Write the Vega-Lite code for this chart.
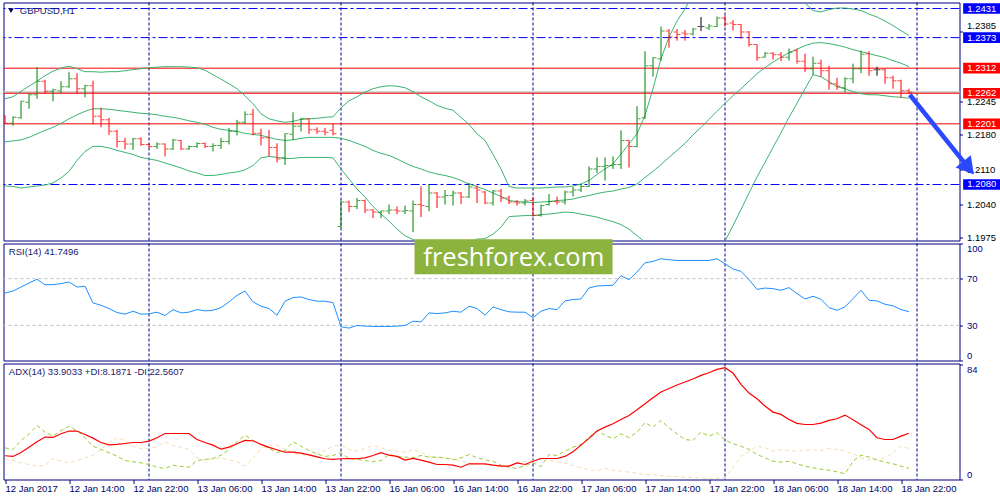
{
"$schema":"https://vega.github.io/schema/vega-lite/v6.json",
"background":"white",
"padding":{"left":1.5,"top":1.5,"right":0,"bottom":0},
"spacing":3,
"bounds":"flush",
"config":{"view":{"stroke":"#000080","strokeWidth":1},"axis":{"labelFont":"Liberation Sans","labelFontSize":9.5,"labelColor":"#000000","tickColor":"#000080","domain":false,"grid":false,"labelOverlap":false}},
"datasets":{
"seps":[{"i":18},{"i":42},{"i":66},{"i":90},{"i":114}],
"levels":[{"v":1.2431,"k":"blue"},{"v":1.2373,"k":"blue"},{"v":1.208,"k":"blue"},{"v":1.2312,"k":"red"},{"v":1.2262,"k":"red"},{"v":1.2201,"k":"red"}],
"bars":[
{"i":0,"o":1.2218,"h":1.2218,"l":1.2201,"c":1.2202,"u":1.2251,"m":1.2165,"lb":1.2077,"rsi":57.7,"adx":17.4,"pdi":23.2,"mdi":15.4},
{"i":1,"o":1.2202,"h":1.2216,"l":1.2197,"c":1.2214,"u":1.2255,"m":1.2167,"lb":1.2076,"rsi":59.4,"adx":16.9,"pdi":22.0,"mdi":13.9},
{"i":2,"o":1.2213,"h":1.2247,"l":1.2211,"c":1.2246,"u":1.2266,"m":1.2169,"lb":1.2073,"rsi":62.8,"adx":19.8,"pdi":28.6,"mdi":12.2},
{"i":3,"o":1.2244,"h":1.2262,"l":1.2231,"c":1.2259,"u":1.2276,"m":1.2174,"lb":1.2075,"rsi":66.2,"adx":23.7,"pdi":33.5,"mdi":11.0},
{"i":4,"o":1.2259,"h":1.2314,"l":1.2251,"c":1.2286,"u":1.2286,"m":1.2181,"lb":1.2077,"rsi":69.4,"adx":27.6,"pdi":39.6,"mdi":9.8},
{"i":5,"o":1.2286,"h":1.2289,"l":1.2262,"c":1.2266,"u":1.2297,"m":1.2188,"lb":1.2079,"rsi":64.8,"adx":31.1,"pdi":34.7,"mdi":10.5},
{"i":6,"o":1.2266,"h":1.2271,"l":1.2246,"c":1.2269,"u":1.2306,"m":1.2194,"lb":1.2083,"rsi":64.8,"adx":30.8,"pdi":31.8,"mdi":15.4},
{"i":7,"o":1.2267,"h":1.2286,"l":1.2262,"c":1.2275,"u":1.2312,"m":1.2202,"lb":1.2093,"rsi":65.7,"adx":33.5,"pdi":35.9,"mdi":13.4},
{"i":8,"o":1.2275,"h":1.2304,"l":1.2273,"c":1.2291,"u":1.2316,"m":1.2211,"lb":1.2106,"rsi":67.1,"adx":35.5,"pdi":38.9,"mdi":12.2},
{"i":9,"o":1.2291,"h":1.2302,"l":1.2261,"c":1.2271,"u":1.2311,"m":1.2219,"lb":1.2128,"rsi":62.8,"adx":35.5,"pdi":35.9,"mdi":13.9},
{"i":10,"o":1.2271,"h":1.2279,"l":1.2254,"c":1.2277,"u":1.2305,"m":1.2226,"lb":1.2146,"rsi":63.4,"adx":33.0,"pdi":30.6,"mdi":15.9},
{"i":11,"o":1.2277,"h":1.2287,"l":1.22,"c":1.2216,"u":1.2305,"m":1.2231,"lb":1.2156,"rsi":49.2,"adx":30.3,"pdi":24.4,"mdi":17.8},
{"i":12,"o":1.2216,"h":1.2233,"l":1.2194,"c":1.2209,"u":1.2304,"m":1.2231,"lb":1.2156,"rsi":47.2,"adx":27.1,"pdi":22.0,"mdi":22.2},
{"i":13,"o":1.2209,"h":1.2213,"l":1.2179,"c":1.2186,"u":1.2305,"m":1.223,"lb":1.2153,"rsi":44.4,"adx":25.4,"pdi":19.6,"mdi":26.9},
{"i":14,"o":1.2186,"h":1.2189,"l":1.2154,"c":1.2166,"u":1.2305,"m":1.2228,"lb":1.2148,"rsi":41.0,"adx":25.7,"pdi":17.1,"mdi":30.6},
{"i":15,"o":1.2166,"h":1.2173,"l":1.215,"c":1.2161,"u":1.2307,"m":1.2226,"lb":1.2144,"rsi":39.6,"adx":26.4,"pdi":13.9,"mdi":28.6},
{"i":16,"o":1.2161,"h":1.2173,"l":1.2149,"c":1.2171,"u":1.2309,"m":1.2224,"lb":1.214,"rsi":42.1,"adx":27.1,"pdi":13.0,"mdi":24.4},
{"i":17,"o":1.2171,"h":1.2174,"l":1.2157,"c":1.216,"u":1.2311,"m":1.2222,"lb":1.2134,"rsi":39.6,"adx":27.1,"pdi":12.2,"mdi":22.7},
{"i":18,"o":1.216,"h":1.2162,"l":1.2153,"c":1.2156,"u":1.2313,"m":1.2221,"lb":1.2131,"rsi":39.9,"adx":28.1,"pdi":11.0,"mdi":22.7},
{"i":19,"o":1.2156,"h":1.2164,"l":1.2151,"c":1.2161,"u":1.2314,"m":1.2219,"lb":1.2128,"rsi":41.3,"adx":30.6,"pdi":9.0,"mdi":24.2},
{"i":20,"o":1.2161,"h":1.2162,"l":1.2136,"c":1.2151,"u":1.2315,"m":1.2216,"lb":1.2123,"rsi":38.4,"adx":33.7,"pdi":8.1,"mdi":27.4},
{"i":21,"o":1.2151,"h":1.2171,"l":1.2149,"c":1.2169,"u":1.2315,"m":1.2214,"lb":1.2118,"rsi":43.5,"adx":33.7,"pdi":10.5,"mdi":24.9},
{"i":22,"o":1.2168,"h":1.2169,"l":1.2149,"c":1.2151,"u":1.2315,"m":1.2211,"lb":1.2113,"rsi":40.7,"adx":33.7,"pdi":9.5,"mdi":23.7},
{"i":23,"o":1.2151,"h":1.2158,"l":1.2149,"c":1.2156,"u":1.2314,"m":1.2207,"lb":1.2107,"rsi":41.3,"adx":33.7,"pdi":9.0,"mdi":22.0},
{"i":24,"o":1.2156,"h":1.2164,"l":1.2153,"c":1.2162,"u":1.2313,"m":1.2204,"lb":1.2103,"rsi":43.5,"adx":29.3,"pdi":13.9,"mdi":15.9},
{"i":25,"o":1.2162,"h":1.2164,"l":1.2153,"c":1.2156,"u":1.2308,"m":1.22,"lb":1.2098,"rsi":42.4,"adx":27.1,"pdi":14.7,"mdi":14.2},
{"i":26,"o":1.2156,"h":1.2162,"l":1.2146,"c":1.2158,"u":1.2299,"m":1.2194,"lb":1.2098,"rsi":43.0,"adx":25.2,"pdi":15.4,"mdi":15.2},
{"i":27,"o":1.2158,"h":1.2173,"l":1.2151,"c":1.2166,"u":1.229,"m":1.219,"lb":1.21,"rsi":45.2,"adx":22.2,"pdi":17.8,"mdi":15.9},
{"i":28,"o":1.2166,"h":1.2193,"l":1.216,"c":1.2186,"u":1.2281,"m":1.2188,"lb":1.2103,"rsi":50.1,"adx":23.7,"pdi":22.0,"mdi":14.4},
{"i":29,"o":1.2186,"h":1.2209,"l":1.2178,"c":1.2204,"u":1.2271,"m":1.2186,"lb":1.2105,"rsi":55.7,"adx":26.2,"pdi":27.6,"mdi":13.0},
{"i":30,"o":1.2204,"h":1.2226,"l":1.2201,"c":1.222,"u":1.2257,"m":1.2182,"lb":1.2109,"rsi":59.4,"adx":28.6,"pdi":32.5,"mdi":9.8},
{"i":31,"o":1.222,"h":1.2231,"l":1.2178,"c":1.2182,"u":1.2241,"m":1.218,"lb":1.2118,"rsi":50.1,"adx":28.4,"pdi":28.6,"mdi":15.4},
{"i":32,"o":1.2182,"h":1.2191,"l":1.2158,"c":1.2173,"u":1.2221,"m":1.2178,"lb":1.2133,"rsi":46.4,"adx":25.7,"pdi":25.7,"mdi":22.7},
{"i":33,"o":1.2173,"h":1.2189,"l":1.2136,"c":1.2154,"u":1.2211,"m":1.2174,"lb":1.2136,"rsi":44.4,"adx":23.5,"pdi":22.7,"mdi":25.2},
{"i":34,"o":1.2154,"h":1.2162,"l":1.2124,"c":1.2131,"u":1.2207,"m":1.217,"lb":1.2134,"rsi":38.7,"adx":21.8,"pdi":19.8,"mdi":25.2},
{"i":35,"o":1.2133,"h":1.2182,"l":1.2119,"c":1.2181,"u":1.2204,"m":1.2168,"lb":1.2132,"rsi":50.7,"adx":20.0,"pdi":21.3,"mdi":22.0},
{"i":36,"o":1.218,"h":1.2224,"l":1.2169,"c":1.2196,"u":1.2206,"m":1.2169,"lb":1.2132,"rsi":53.8,"adx":20.0,"pdi":27.6,"mdi":19.3},
{"i":37,"o":1.2196,"h":1.2213,"l":1.2186,"c":1.2211,"u":1.221,"m":1.2172,"lb":1.2134,"rsi":54.3,"adx":19.3,"pdi":24.4,"mdi":18.3},
{"i":38,"o":1.2211,"h":1.2212,"l":1.2181,"c":1.2189,"u":1.2211,"m":1.2174,"lb":1.2134,"rsi":52.1,"adx":18.1,"pdi":21.3,"mdi":17.6},
{"i":39,"o":1.2189,"h":1.2194,"l":1.2181,"c":1.2186,"u":1.2212,"m":1.2174,"lb":1.2134,"rsi":50.7,"adx":16.6,"pdi":18.8,"mdi":18.8},
{"i":40,"o":1.2186,"h":1.2193,"l":1.2178,"c":1.2184,"u":1.2214,"m":1.2174,"lb":1.2134,"rsi":50.7,"adx":15.2,"pdi":16.9,"mdi":21.3},
{"i":41,"o":1.2188,"h":1.2201,"l":1.2178,"c":1.2181,"u":1.2215,"m":1.2174,"lb":1.2133,"rsi":49.5,"adx":14.7,"pdi":17.6,"mdi":24.4},
{"i":42,"o":1.1996,"h":1.2048,"l":1.1993,"c":1.2045,"u":1.2233,"m":1.2172,"lb":1.2111,"rsi":28.8,"adx":15.2,"pdi":19.6,"mdi":25.2},
{"i":43,"o":1.2045,"h":1.2048,"l":1.2025,"c":1.2036,"u":1.2247,"m":1.2168,"lb":1.2091,"rsi":27.7,"adx":15.4,"pdi":15.4,"mdi":22.0},
{"i":44,"o":1.2036,"h":1.2053,"l":1.2031,"c":1.2048,"u":1.2255,"m":1.2162,"lb":1.2071,"rsi":29.9,"adx":15.2,"pdi":14.7,"mdi":20.8},
{"i":45,"o":1.2048,"h":1.205,"l":1.2023,"c":1.2029,"u":1.2264,"m":1.2156,"lb":1.2055,"rsi":29.4,"adx":15.9,"pdi":13.9,"mdi":22.7},
{"i":46,"o":1.2029,"h":1.2031,"l":1.2013,"c":1.2025,"u":1.2271,"m":1.2148,"lb":1.2036,"rsi":29.1,"adx":17.6,"pdi":13.0,"mdi":24.9},
{"i":47,"o":1.2024,"h":1.2028,"l":1.2013,"c":1.2027,"u":1.2275,"m":1.2142,"lb":1.2021,"rsi":29.1,"adx":19.6,"pdi":13.9,"mdi":23.2},
{"i":48,"o":1.2027,"h":1.204,"l":1.2021,"c":1.2029,"u":1.2277,"m":1.2138,"lb":1.2007,"rsi":29.1,"adx":17.8,"pdi":18.3,"mdi":21.5},
{"i":49,"o":1.2029,"h":1.2036,"l":1.2021,"c":1.2027,"u":1.2276,"m":1.2131,"lb":1.1991,"rsi":29.4,"adx":16.9,"pdi":17.1,"mdi":20.8},
{"i":50,"o":1.2027,"h":1.2038,"l":1.2021,"c":1.2028,"u":1.2273,"m":1.2123,"lb":1.1978,"rsi":29.9,"adx":14.2,"pdi":16.4,"mdi":19.8},
{"i":51,"o":1.2027,"h":1.2048,"l":1.1985,"c":1.204,"u":1.2265,"m":1.2116,"lb":1.197,"rsi":33.6,"adx":15.4,"pdi":15.9,"mdi":22.0},
{"i":52,"o":1.204,"h":1.2076,"l":1.2015,"c":1.2038,"u":1.2255,"m":1.2111,"lb":1.1966,"rsi":33.0,"adx":14.2,"pdi":17.6,"mdi":19.6},
{"i":53,"o":1.2036,"h":1.2081,"l":1.2027,"c":1.2063,"u":1.2247,"m":1.2105,"lb":1.1962,"rsi":40.7,"adx":12.7,"pdi":16.4,"mdi":17.1},
{"i":54,"o":1.2063,"h":1.2065,"l":1.2033,"c":1.2055,"u":1.2238,"m":1.2101,"lb":1.1964,"rsi":40.1,"adx":11.0,"pdi":16.4,"mdi":15.9},
{"i":55,"o":1.2055,"h":1.2069,"l":1.204,"c":1.2058,"u":1.2232,"m":1.2098,"lb":1.1964,"rsi":40.7,"adx":11.0,"pdi":15.9,"mdi":15.6},
{"i":56,"o":1.2058,"h":1.2068,"l":1.2038,"c":1.2063,"u":1.2228,"m":1.2094,"lb":1.196,"rsi":42.1,"adx":10.5,"pdi":14.4,"mdi":15.2},
{"i":57,"o":1.2063,"h":1.2065,"l":1.2041,"c":1.2055,"u":1.2214,"m":1.2088,"lb":1.1962,"rsi":41.3,"adx":9.0,"pdi":15.9,"mdi":13.4},
{"i":58,"o":1.2055,"h":1.2083,"l":1.2053,"c":1.2075,"u":1.22,"m":1.2081,"lb":1.1963,"rsi":46.4,"adx":11.5,"pdi":18.3,"mdi":12.2},
{"i":59,"o":1.2073,"h":1.2078,"l":1.2043,"c":1.2069,"u":1.2181,"m":1.2076,"lb":1.1971,"rsi":44.4,"adx":11.5,"pdi":15.9,"mdi":11.5},
{"i":60,"o":1.2065,"h":1.2067,"l":1.2041,"c":1.2043,"u":1.2168,"m":1.207,"lb":1.1972,"rsi":38.7,"adx":11.5,"pdi":14.4,"mdi":11.0},
{"i":61,"o":1.2043,"h":1.2069,"l":1.2038,"c":1.2067,"u":1.214,"m":1.2063,"lb":1.1981,"rsi":45.8,"adx":10.5,"pdi":13.4,"mdi":10.0},
{"i":62,"o":1.2067,"h":1.2071,"l":1.2045,"c":1.2053,"u":1.2111,"m":1.2056,"lb":1.1995,"rsi":43.5,"adx":9.8,"pdi":10.5,"mdi":10.0},
{"i":63,"o":1.2053,"h":1.2058,"l":1.2041,"c":1.2045,"u":1.2076,"m":1.2048,"lb":1.2016,"rsi":41.6,"adx":9.8,"pdi":9.0,"mdi":9.0},
{"i":64,"o":1.2045,"h":1.2049,"l":1.2038,"c":1.2043,"u":1.2073,"m":1.2046,"lb":1.2017,"rsi":41.3,"adx":12.2,"pdi":8.1,"mdi":12.7},
{"i":65,"o":1.2043,"h":1.2051,"l":1.2038,"c":1.2047,"u":1.2073,"m":1.2045,"lb":1.2018,"rsi":41.3,"adx":11.0,"pdi":10.3,"mdi":13.4},
{"i":66,"o":1.2048,"h":1.2055,"l":1.2016,"c":1.2018,"u":1.2073,"m":1.2044,"lb":1.2018,"rsi":36.7,"adx":13.4,"pdi":12.2,"mdi":13.9},
{"i":67,"o":1.2018,"h":1.204,"l":1.2016,"c":1.2038,"u":1.2073,"m":1.2045,"lb":1.202,"rsi":42.1,"adx":15.4,"pdi":9.5,"mdi":16.1},
{"i":68,"o":1.204,"h":1.2061,"l":1.2038,"c":1.2046,"u":1.2074,"m":1.2046,"lb":1.2021,"rsi":44.4,"adx":15.4,"pdi":18.3,"mdi":14.2},
{"i":69,"o":1.2046,"h":1.2056,"l":1.204,"c":1.2045,"u":1.2075,"m":1.2048,"lb":1.2023,"rsi":43.5,"adx":15.4,"pdi":17.6,"mdi":13.0},
{"i":70,"o":1.2045,"h":1.2068,"l":1.204,"c":1.2065,"u":1.2075,"m":1.2049,"lb":1.2025,"rsi":50.9,"adx":16.9,"pdi":20.8,"mdi":12.0},
{"i":71,"o":1.2065,"h":1.2075,"l":1.2056,"c":1.2069,"u":1.2077,"m":1.2051,"lb":1.2024,"rsi":52.1,"adx":20.3,"pdi":23.7,"mdi":10.3},
{"i":72,"o":1.2069,"h":1.2081,"l":1.2065,"c":1.2076,"u":1.2081,"m":1.2055,"lb":1.2021,"rsi":52.6,"adx":25.2,"pdi":25.7,"mdi":8.6},
{"i":73,"o":1.2076,"h":1.2116,"l":1.2075,"c":1.2111,"u":1.2088,"m":1.2058,"lb":1.2018,"rsi":62.0,"adx":30.1,"pdi":31.1,"mdi":7.1},
{"i":74,"o":1.2111,"h":1.2134,"l":1.2103,"c":1.2116,"u":1.21,"m":1.2062,"lb":1.2015,"rsi":63.7,"adx":35.5,"pdi":35.5,"mdi":6.4},
{"i":75,"o":1.2116,"h":1.2134,"l":1.2088,"c":1.2118,"u":1.2111,"m":1.2065,"lb":1.201,"rsi":64.0,"adx":38.4,"pdi":32.5,"mdi":8.1},
{"i":76,"o":1.2118,"h":1.2136,"l":1.2111,"c":1.212,"u":1.2121,"m":1.2067,"lb":1.2006,"rsi":64.3,"adx":40.8,"pdi":29.8,"mdi":6.8},
{"i":77,"o":1.212,"h":1.2188,"l":1.2111,"c":1.2168,"u":1.2141,"m":1.2071,"lb":1.2,"rsi":72.5,"adx":44.0,"pdi":33.5,"mdi":6.1},
{"i":78,"o":1.2168,"h":1.2169,"l":1.2114,"c":1.2156,"u":1.2161,"m":1.2074,"lb":1.1991,"rsi":69.1,"adx":46.9,"pdi":30.6,"mdi":5.4},
{"i":79,"o":1.2156,"h":1.2236,"l":1.2154,"c":1.2211,"u":1.2181,"m":1.2081,"lb":1.1978,"rsi":75.6,"adx":51.1,"pdi":34.7,"mdi":4.6},
{"i":80,"o":1.2213,"h":1.2346,"l":1.2211,"c":1.2317,"u":1.2218,"m":1.2094,"lb":1.1965,"rsi":83.5,"adx":55.5,"pdi":41.6,"mdi":3.7},
{"i":81,"o":1.2317,"h":1.2334,"l":1.2295,"c":1.2333,"u":1.2271,"m":1.2106,"lb":1.1942,"rsi":84.7,"adx":59.9,"pdi":38.4,"mdi":3.4},
{"i":82,"o":1.2331,"h":1.2395,"l":1.2327,"c":1.2386,"u":1.2331,"m":1.212,"lb":1.1909,"rsi":87.0,"adx":64.1,"pdi":43.3,"mdi":2.9},
{"i":83,"o":1.2386,"h":1.239,"l":1.2353,"c":1.2374,"u":1.2374,"m":1.2134,"lb":1.1895,"rsi":86.1,"adx":66.7,"pdi":37.9,"mdi":2.4},
{"i":84,"o":1.2384,"h":1.239,"l":1.2367,"c":1.2379,"u":1.2406,"m":1.2148,"lb":1.189,"rsi":85.5,"adx":69.2,"pdi":33.5,"mdi":2.2},
{"i":85,"o":1.2382,"h":1.2388,"l":1.2367,"c":1.238,"u":1.243,"m":1.2162,"lb":1.1894,"rsi":85.5,"adx":71.4,"pdi":29.3,"mdi":1.7},
{"i":86,"o":1.238,"h":1.2392,"l":1.2377,"c":1.239,"u":1.246,"m":1.2179,"lb":1.1898,"rsi":85.5,"adx":73.6,"pdi":28.6,"mdi":1.5},
{"i":87,"o":1.2395,"h":1.2414,"l":1.2386,"c":1.2395,"u":1.248,"m":1.2194,"lb":1.1908,"rsi":85.5,"adx":76.3,"pdi":34.7,"mdi":1.2},
{"i":88,"o":1.2392,"h":1.24,"l":1.2388,"c":1.2396,"u":1.2497,"m":1.221,"lb":1.1922,"rsi":85.5,"adx":78.2,"pdi":31.8,"mdi":0.7},
{"i":89,"o":1.2395,"h":1.2415,"l":1.2394,"c":1.2412,"u":1.251,"m":1.2226,"lb":1.1941,"rsi":87.0,"adx":80.7,"pdi":34.2,"mdi":1.0},
{"i":90,"o":1.2412,"h":1.2417,"l":1.2395,"c":1.24,"u":1.2516,"m":1.2242,"lb":1.1967,"rsi":82.7,"adx":81.9,"pdi":28.9,"mdi":1.2},
{"i":91,"o":1.2402,"h":1.2408,"l":1.2387,"c":1.2399,"u":1.2515,"m":1.2257,"lb":1.1998,"rsi":78.2,"adx":78.0,"pdi":26.2,"mdi":9.0},
{"i":92,"o":1.2399,"h":1.24,"l":1.2371,"c":1.2384,"u":1.2512,"m":1.2271,"lb":1.203,"rsi":76.2,"adx":69.7,"pdi":24.4,"mdi":17.1},
{"i":93,"o":1.2384,"h":1.2386,"l":1.2355,"c":1.2359,"u":1.251,"m":1.2286,"lb":1.2063,"rsi":69.1,"adx":63.3,"pdi":22.0,"mdi":20.3},
{"i":94,"o":1.2359,"h":1.236,"l":1.2327,"c":1.2333,"u":1.2507,"m":1.2301,"lb":1.2095,"rsi":60.8,"adx":59.2,"pdi":18.3,"mdi":24.4},
{"i":95,"o":1.2334,"h":1.2344,"l":1.2333,"c":1.2342,"u":1.2502,"m":1.2313,"lb":1.2124,"rsi":61.9,"adx":53.8,"pdi":15.9,"mdi":23.2},
{"i":96,"o":1.2342,"h":1.2344,"l":1.2329,"c":1.2339,"u":1.2494,"m":1.2324,"lb":1.2154,"rsi":61.4,"adx":49.4,"pdi":13.4,"mdi":20.8},
{"i":97,"o":1.2339,"h":1.2344,"l":1.2326,"c":1.2334,"u":1.2485,"m":1.2334,"lb":1.2183,"rsi":60.0,"adx":47.7,"pdi":12.7,"mdi":21.8},
{"i":98,"o":1.2334,"h":1.2351,"l":1.2327,"c":1.2344,"u":1.2471,"m":1.2343,"lb":1.2214,"rsi":62.3,"adx":44.0,"pdi":13.4,"mdi":21.3},
{"i":99,"o":1.2347,"h":1.2351,"l":1.2321,"c":1.2326,"u":1.2458,"m":1.235,"lb":1.2242,"rsi":57.2,"adx":41.1,"pdi":11.5,"mdi":20.8},
{"i":100,"o":1.2326,"h":1.2341,"l":1.2304,"c":1.2311,"u":1.2442,"m":1.2357,"lb":1.2271,"rsi":52.6,"adx":40.3,"pdi":9.8,"mdi":21.3},
{"i":101,"o":1.2311,"h":1.2335,"l":1.2299,"c":1.2322,"u":1.2427,"m":1.2362,"lb":1.2299,"rsi":54.9,"adx":40.3,"pdi":8.6,"mdi":21.8},
{"i":102,"o":1.2322,"h":1.2329,"l":1.2295,"c":1.2307,"u":1.2424,"m":1.2363,"lb":1.2295,"rsi":52.3,"adx":41.3,"pdi":7.6,"mdi":21.3},
{"i":103,"o":1.2307,"h":1.2317,"l":1.2269,"c":1.2281,"u":1.2429,"m":1.2361,"lb":1.2285,"rsi":45.2,"adx":43.3,"pdi":6.8,"mdi":22.7},
{"i":104,"o":1.2281,"h":1.2293,"l":1.2269,"c":1.2276,"u":1.2432,"m":1.2358,"lb":1.2275,"rsi":42.9,"adx":44.5,"pdi":5.6,"mdi":22.0},
{"i":105,"o":1.2273,"h":1.2294,"l":1.2264,"c":1.2291,"u":1.2432,"m":1.2354,"lb":1.2271,"rsi":45.8,"adx":47.2,"pdi":4.2,"mdi":20.8},
{"i":106,"o":1.2291,"h":1.2321,"l":1.2282,"c":1.2311,"u":1.243,"m":1.2349,"lb":1.2265,"rsi":52.9,"adx":43.8,"pdi":13.4,"mdi":18.8},
{"i":107,"o":1.2311,"h":1.2347,"l":1.2302,"c":1.234,"u":1.2427,"m":1.2345,"lb":1.2261,"rsi":60.0,"adx":40.1,"pdi":17.8,"mdi":15.9},
{"i":108,"o":1.2341,"h":1.2346,"l":1.2297,"c":1.2307,"u":1.242,"m":1.2341,"lb":1.2259,"rsi":51.5,"adx":36.7,"pdi":16.4,"mdi":14.4},
{"i":109,"o":1.2309,"h":1.2315,"l":1.2297,"c":1.2309,"u":1.2414,"m":1.2337,"lb":1.2259,"rsi":50.9,"adx":30.6,"pdi":14.4,"mdi":14.2},
{"i":110,"o":1.2309,"h":1.2311,"l":1.2281,"c":1.2293,"u":1.2406,"m":1.2333,"lb":1.2257,"rsi":48.1,"adx":29.3,"pdi":12.7,"mdi":15.9},
{"i":111,"o":1.2293,"h":1.2297,"l":1.2271,"c":1.2287,"u":1.2397,"m":1.2327,"lb":1.2255,"rsi":46.7,"adx":29.3,"pdi":11.5,"mdi":19.6},
{"i":112,"o":1.2287,"h":1.2289,"l":1.2253,"c":1.2267,"u":1.2387,"m":1.2322,"lb":1.2254,"rsi":43.5,"adx":31.8,"pdi":9.8,"mdi":24.4},
{"i":113,"o":1.2267,"h":1.2271,"l":1.2261,"c":1.2264,"u":1.2377,"m":1.2315,"lb":1.2252,"rsi":41.7,"adx":33.9,"pdi":8.2,"mdi":22.6}
]},
"vconcat":[
{"width":956,"height":238,"layer":[
{"data":{"name":"seps"},"mark":{"type":"rule","color":"#000080","strokeDash":[3,2]},"encoding":{"x":{"field":"i","type":"quantitative","scale":{"domain":[-0.1875,119.3125],"nice":false,"zero":false},"axis":null}}},
{"data":{"name":"levels"},"transform":[{"filter":"datum.k == 'blue'"}],"mark":{"type":"rule","color":"#0000ff","strokeDash":[9,3,3,3]},"encoding":{"y":{"field":"v","type":"quantitative","scale":{"domain":[1.19683,1.2443],"nice":false,"zero":false}}}},
{"data":{"values":[{"v":1.2264}]},"mark":{"type":"rule","color":"#c8c8c8","strokeWidth":2},"encoding":{"y":{"field":"v","type":"quantitative","scale":{"domain":[1.19683,1.2443],"nice":false,"zero":false}}}},
{"data":{"name":"levels"},"transform":[{"filter":"datum.k == 'red'"}],"mark":{"type":"rule","color":"#ff0000","strokeWidth":1},"encoding":{"y":{"field":"v","type":"quantitative","scale":{"domain":[1.19683,1.2443],"nice":false,"zero":false}}}},
{"data":{"name":"bars"},"mark":{"type":"line","color":"#3cb371","strokeWidth":1,"clip":true},"encoding":{"x":{"field":"i","type":"quantitative","scale":{"domain":[-0.1875,119.3125],"nice":false,"zero":false},"axis":null},"y":{"field":"u","type":"quantitative","scale":{"domain":[1.19683,1.2443],"nice":false,"zero":false}}}},
{"data":{"name":"bars"},"mark":{"type":"line","color":"#3cb371","strokeWidth":1,"clip":true},"encoding":{"x":{"field":"i","type":"quantitative","scale":{"domain":[-0.1875,119.3125],"nice":false,"zero":false},"axis":null},"y":{"field":"m","type":"quantitative","scale":{"domain":[1.19683,1.2443],"nice":false,"zero":false}}}},
{"data":{"name":"bars"},"mark":{"type":"line","color":"#3cb371","strokeWidth":1,"clip":true},"encoding":{"x":{"field":"i","type":"quantitative","scale":{"domain":[-0.1875,119.3125],"nice":false,"zero":false},"axis":null},"y":{"field":"lb","type":"quantitative","scale":{"domain":[1.19683,1.2443],"nice":false,"zero":false}}}},
{"data":{"name":"bars"},"mark":{"type":"rule","strokeWidth":1},"encoding":{"x":{"field":"i","type":"quantitative","scale":{"domain":[-0.1875,119.3125],"nice":false,"zero":false},"axis":null},"y":{"field":"l","type":"quantitative","scale":{"domain":[1.19683,1.2443],"nice":false,"zero":false},"axis":{"orient":"right","values":[1.2385,1.2245,1.218,1.211,1.204,1.1975],"format":".4f","title":null,"tickSize":3,"labelPadding":4,"labelFontSize":9.5,"labelOverlap":false,"labelOffset":{"condition":{"test":"datum.value > 1.238","value":-6},"value":0}}},"y2":{"field":"h"},"color":{"condition":[{"test":"datum.c > datum.o","value":"#008000"},{"test":"datum.c < datum.o","value":"#ff0000"}],"value":"#000000"}}},
{"data":{"name":"bars"},"mark":{"type":"tick","orient":"horizontal","size":3,"thickness":1,"xOffset":-2,"clip":true},"encoding":{"x":{"field":"i","type":"quantitative","scale":{"domain":[-0.1875,119.3125],"nice":false,"zero":false},"axis":null},"y":{"field":"o","type":"quantitative","scale":{"domain":[1.19683,1.2443],"nice":false,"zero":false}},"color":{"condition":[{"test":"datum.c > datum.o","value":"#008000"},{"test":"datum.c < datum.o","value":"#ff0000"}],"value":"#000000"}}},
{"data":{"name":"bars"},"mark":{"type":"tick","orient":"horizontal","size":3,"thickness":1,"xOffset":2,"clip":true},"encoding":{"x":{"field":"i","type":"quantitative","scale":{"domain":[-0.1875,119.3125],"nice":false,"zero":false},"axis":null},"y":{"field":"c","type":"quantitative","scale":{"domain":[1.19683,1.2443],"nice":false,"zero":false}},"color":{"condition":[{"test":"datum.c > datum.o","value":"#008000"},{"test":"datum.c < datum.o","value":"#ff0000"}],"value":"#000000"}}},
{"data":{"values":[{}]},"mark":{"type":"point","shape":"triangle-down","filled":true,"size":30,"color":"#000050","opacity":1},"encoding":{"x":{"datum":0.75,"type":"quantitative","scale":{"domain":[-0.1875,119.3125],"nice":false,"zero":false},"axis":null},"y":{"datum":1.2427,"type":"quantitative","scale":{"domain":[1.19683,1.2443],"nice":false,"zero":false}}}},
{"data":{"values":[{}]},"mark":{"type":"text","text":"GBPUSD,H1","font":"Liberation Sans","fontSize":9.5,"color":"#1a1a6e","align":"left","baseline":"middle"},"encoding":{"x":{"datum":1.85,"type":"quantitative","scale":{"domain":[-0.1875,119.3125],"nice":false,"zero":false},"axis":null},"y":{"datum":1.24257,"type":"quantitative","scale":{"domain":[1.19683,1.2443],"nice":false,"zero":false}}}},
{"data":{"values":[{"i":113.1,"p":1.2259},{"i":120.44,"p":1.2113}]},"mark":{"type":"line","color":"#2a48ff","strokeWidth":4.5,"clip":false},"encoding":{"x":{"field":"i","type":"quantitative","scale":{"domain":[-0.1875,119.3125],"nice":false,"zero":false},"axis":null},"y":{"field":"p","type":"quantitative","scale":{"domain":[1.19683,1.2443],"nice":false,"zero":false}}}},
{"data":{"values":[{"i":120.44,"p":1.2113}]},"mark":{"type":"point","shape":"triangle-right","angle":51.2,"size":380,"filled":true,"color":"#2a48ff","opacity":1},"encoding":{"x":{"field":"i","type":"quantitative","scale":{"domain":[-0.1875,119.3125],"nice":false,"zero":false},"axis":null},"y":{"field":"p","type":"quantitative","scale":{"domain":[1.19683,1.2443],"nice":false,"zero":false}}}},
{"data":{"name":"levels"},"mark":{"type":"point","shape":"M-1,-0.287H1V0.287H-1Z","size":1391,"filled":true,"opacity":1,"strokeWidth":0},"encoding":{"x":{"datum":122.1,"type":"quantitative","scale":{"domain":[-0.1875,119.3125],"nice":false,"zero":false},"axis":null},"y":{"field":"v","type":"quantitative","scale":{"domain":[1.19683,1.2443],"nice":false,"zero":false}},"color":{"field":"k","type":"nominal","scale":{"domain":["blue","red"],"range":["#0000ff","#ff0000"]},"legend":null}}},
{"data":{"name":"levels"},"mark":{"type":"text","color":"#ffffff","font":"Liberation Sans","fontSize":9.5,"align":"center","baseline":"middle"},"encoding":{"x":{"datum":122.1,"type":"quantitative","scale":{"domain":[-0.1875,119.3125],"nice":false,"zero":false},"axis":null},"y":{"field":"v","type":"quantitative","scale":{"domain":[1.19683,1.2443],"nice":false,"zero":false}},"text":{"field":"v","type":"quantitative","format":".4f"}}}
]},
{"width":956,"height":117,"layer":[
{"data":{"name":"seps"},"mark":{"type":"rule","color":"#000080","strokeDash":[3,2]},"encoding":{"x":{"field":"i","type":"quantitative","scale":{"domain":[-0.1875,119.3125],"nice":false,"zero":false},"axis":null}}},
{"data":{"values":[{"lv":30},{"lv":70}]},"mark":{"type":"rule","color":"#c0c0c0","strokeDash":[3,3]},"encoding":{"y":{"field":"lv","type":"quantitative","scale":{"domain":[0,100],"nice":false,"zero":false},"axis":{"orient":"right","values":[0,30,70,100],"title":null,"tickSize":3,"labelPadding":4,"labelOverlap":false,"labelFlush":true,"labelColor":"#000080"}}}},
{"data":{"name":"bars"},"mark":{"type":"line","color":"#1e90ff","strokeWidth":1},"encoding":{"x":{"field":"i","type":"quantitative","scale":{"domain":[-0.1875,119.3125],"nice":false,"zero":false},"axis":null},"y":{"field":"rsi","type":"quantitative","scale":{"domain":[0,100],"nice":false,"zero":false},"axis":{"orient":"right","values":[0,30,70,100],"title":null,"tickSize":3,"labelPadding":4,"labelOverlap":false,"labelFlush":true,"labelColor":"#000080"}}}},
{"data":{"values":[{}]},"mark":{"type":"text","text":"RSI(14) 41.7496","font":"Liberation Sans","fontSize":9.5,"color":"#1a1a6e","align":"left","baseline":"middle"},"encoding":{"x":{"datum":0.475,"type":"quantitative","scale":{"domain":[-0.1875,119.3125],"nice":false,"zero":false},"axis":null},"y":{"datum":92.6,"type":"quantitative","scale":{"domain":[0,100],"nice":false,"zero":false},"axis":{"orient":"right","values":[0,30,70,100],"title":null,"tickSize":3,"labelPadding":4,"labelOverlap":false,"labelFlush":true,"labelColor":"#000080"}}}},
{"data":{"values":[{}]},"mark":{"type":"rect","color":"#8db33f","clip":false},"encoding":{"x":{"datum":51.19,"type":"quantitative","scale":{"domain":[-0.1875,119.3125],"nice":false,"zero":false},"axis":null},"x2":{"datum":75.94},"y":{"datum":103.7,"type":"quantitative","scale":{"domain":[0,100],"nice":false,"zero":false},"axis":{"orient":"right","values":[0,30,70,100],"title":null,"tickSize":3,"labelPadding":4,"labelOverlap":false,"labelFlush":true,"labelColor":"#000080"}},"y2":{"datum":73.8}}},
{"data":{"values":[{}]},"mark":{"type":"text","text":"freshforex.com","font":"Open Sans","fontSize":25.5,"color":"#ffffff","align":"center","baseline":"alphabetic"},"encoding":{"x":{"datum":63.6,"type":"quantitative","scale":{"domain":[-0.1875,119.3125],"nice":false,"zero":false},"axis":null},"y":{"datum":80.9,"type":"quantitative","scale":{"domain":[0,100],"nice":false,"zero":false},"axis":{"orient":"right","values":[0,30,70,100],"title":null,"tickSize":3,"labelPadding":4,"labelOverlap":false,"labelFlush":true,"labelColor":"#000080"}}}}
]},
{"width":956,"height":116,"layer":[
{"data":{"name":"seps"},"mark":{"type":"rule","color":"#000080","strokeDash":[3,2]},"encoding":{"x":{"field":"i","type":"quantitative","scale":{"domain":[-0.1875,119.3125],"nice":false,"zero":false}}}},
{"data":{"name":"bars"},"mark":{"type":"line","color":"#f5deb3","strokeWidth":1,"strokeDash":[4,3]},"encoding":{"x":{"field":"i","type":"quantitative","scale":{"domain":[-0.1875,119.3125],"nice":false,"zero":false}},"y":{"field":"mdi","type":"quantitative","scale":{"domain":[0,85],"nice":false,"zero":false}}}},
{"data":{"name":"bars"},"mark":{"type":"line","color":"#9acd32","strokeWidth":1,"strokeDash":[4,3]},"encoding":{"x":{"field":"i","type":"quantitative","scale":{"domain":[-0.1875,119.3125],"nice":false,"zero":false}},"y":{"field":"pdi","type":"quantitative","scale":{"domain":[0,85],"nice":false,"zero":false}}}},
{"data":{"name":"bars"},"mark":{"type":"line","color":"#ff0000","strokeWidth":1.2},"encoding":{"x":{"field":"i","type":"quantitative","scale":{"domain":[-0.1875,119.3125],"nice":false,"zero":false},"axis":{"orient":"bottom","values":[0,8,16,24,32,40,48,56,64,72,80,88,96,104,112],"labelExpr":"['12 Jan 2017','12 Jan 14:00','12 Jan 22:00','13 Jan 06:00','13 Jan 14:00','13 Jan 22:00','16 Jan 06:00','16 Jan 14:00','16 Jan 22:00','17 Jan 06:00','17 Jan 14:00','17 Jan 22:00','18 Jan 06:00','18 Jan 14:00','18 Jan 22:00'][round(datum.value/8)]","title":null,"tickSize":4,"labelAlign":"left","labelPadding":0,"labelOverlap":false,"labelFlush":false,"labelColor":"#000060"}},"y":{"field":"adx","type":"quantitative","scale":{"domain":[0,85],"nice":false,"zero":false},"axis":{"orient":"right","values":[0,84],"title":null,"tickSize":3,"labelPadding":4,"labelOverlap":false,"labelColor":"#000080","labelFlush":6}}}},
{"data":{"values":[{}]},"mark":{"type":"text","text":"ADX(14) 33.9033 +DI:8.1871 -DI:22.5607","font":"Liberation Sans","fontSize":9.5,"color":"#1a1a6e","align":"left","baseline":"middle"},"encoding":{"x":{"datum":0.475,"type":"quantitative","scale":{"domain":[-0.1875,119.3125],"nice":false,"zero":false}},"y":{"datum":78.6,"type":"quantitative","scale":{"domain":[0,85],"nice":false,"zero":false}}}}
]}
]
}
